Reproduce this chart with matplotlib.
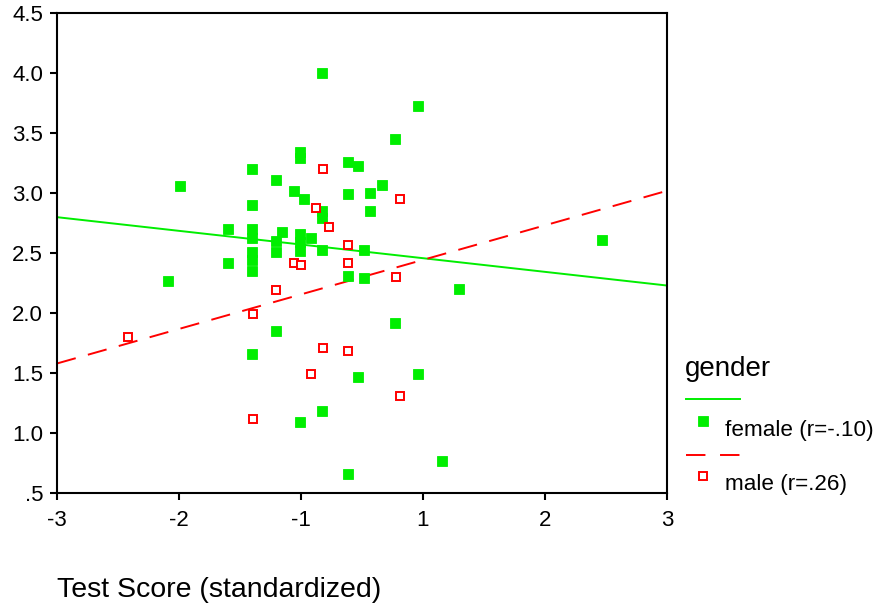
import matplotlib
matplotlib.use("Agg")
import matplotlib.pyplot as plt
from matplotlib.lines import Line2D
import numpy as np

plt.rcParams['font.family'] = ['Liberation Sans', 'DejaVu Sans']

# data
female_x = [-0.39, 0.55, 0.32, -0.61, -0.61, -0.14, -0.04, -1.08, -1.79, -0.85,
            0.20, -0.67, -0.57, -0.14, 0.08, 0.08, -1.08, -0.39, -0.39, -1.32,
            -1.08, -1.08, -0.79, -0.61, -0.61, -0.61, -0.50, -0.85, -0.85, -0.39,
            0.02, -1.32, -1.08, -1.08, -1.08, -1.91, -0.14, 0.02, 0.32, -0.85,
            -1.08, -0.04, 0.55, -0.39, -0.61, 0.79, -0.14, 2.36, 0.95]
female_y = [4.00, 3.73, 3.45, 3.34, 3.29, 3.26, 3.23, 3.20, 3.06, 3.11,
            3.07, 3.02, 2.95, 2.99, 3.00, 2.85, 2.90, 2.85, 2.79, 2.70,
            2.70, 2.63, 2.68, 2.66, 2.59, 2.52, 2.63, 2.60, 2.51, 2.53,
            2.53, 2.42, 2.51, 2.44, 2.35, 2.27, 2.31, 2.29, 1.92, 1.85,
            1.66, 1.47, 1.49, 1.18, 1.09, 0.77, 0.66, 2.61, 2.20]

male_x = [-0.38, 0.37, -0.45, -0.32, -0.14, -0.14, -0.67, -0.60, 0.33,
          -0.85, -1.07, -0.38, -0.14, -0.50, 0.37, -1.07, -2.30]
male_y = [3.20, 2.95, 2.88, 2.72, 2.57, 2.42, 2.42, 2.40, 2.30,
          2.19, 1.99, 1.71, 1.68, 1.49, 1.31, 1.12, 1.80]

# fit lines (end points at x = -3 and x = 3)
fit_x = [-3, 3]
female_fit = [2.80, 2.23]
male_fit = [1.58, 3.02]

female_label = 'female (r=-.10)'
male_label = 'male (r=.26)'

green = '#00ee00'
red = '#ff0000'

W, H = 879, 608
fig = plt.figure(figsize=(W / 100, H / 100), dpi=100)
ax = fig.add_axes([57 / W, 1 - 493 / H, 610 / W, (493 - 13.3) / H])

ax.plot(fit_x, female_fit, color=green, lw=1.4, zorder=2)
ax.plot(fit_x, male_fit, color=red, lw=1.4, dashes=(10, 6.5), zorder=2)
ax.plot(female_x, female_y, ls='none', marker='s', ms=7.6, mfc=green, mec=green,
        mew=0.6, zorder=3)
ax.plot(male_x, male_y, ls='none', marker='s', ms=5.8, mfc='white', mec=red,
        mew=1.4, zorder=4)

ax.set_xlim(-3, 3)
ax.set_ylim(0.5, 4.5)

# SPSS style ticks: 6 evenly spaced, labels rounded to whole numbers
xticks = np.linspace(-3, 3, 6)
ax.set_xticks(xticks)
ax.set_xticklabels([f"{v:.0f}" for v in xticks])
yticks = np.arange(0.5, 4.51, 0.5)
ax.set_yticks(yticks)
ax.set_yticklabels([f"{v:.1f}".lstrip('0') for v in yticks])

for s in ax.spines.values():
    s.set_linewidth(1.5)
ax.tick_params(axis='both', direction='out', length=5, width=1.5,
               labelsize=16, colors='black')
ax.tick_params(axis='x', pad=7)
ax.tick_params(axis='y', pad=5)

ax.set_xlabel('Test Score (standardized)', fontsize=20.5, loc='left',
              va='baseline')
ax.xaxis.set_label_coords(0, (493 - 597) / (493 - 13.3))

# legend drawn by hand (line row, then marker + text row)
def fx(px):
    return px / W

def fy(py):
    return 1 - py / H

fig.text(fx(685), fy(376), 'gender', fontsize=20, va='baseline', ha='left')
fig.add_artist(Line2D([fx(686), fx(740)], [fy(399), fy(399)], color=green, lw=1.4))
fig.add_artist(Line2D([fx(703)], [fy(421)], ls='none', marker='s', ms=7.6,
                      mfc=green, mec=green, mew=0.6))
fig.text(fx(725), fy(436), female_label, fontsize=16.2, va='baseline', ha='left')
fig.add_artist(Line2D([fx(686), fx(740)], [fy(455), fy(455)], color=red, lw=1.4,
                      dashes=(10, 7.5)))
fig.add_artist(Line2D([fx(703)], [fy(476)], ls='none', marker='s', ms=5.8,
                      mfc='white', mec=red, mew=1.4))
fig.text(fx(725), fy(490), male_label, fontsize=16.2, va='baseline', ha='left')

fig.savefig('out.png', dpi=100)
